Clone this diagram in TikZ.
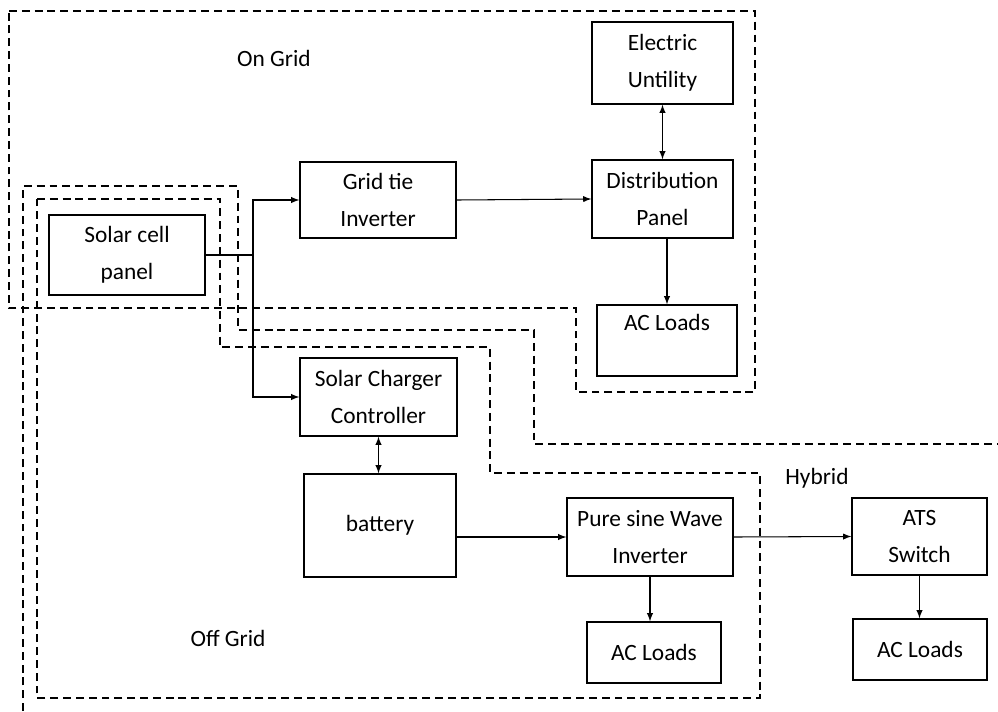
\documentclass[tikz,border=0pt]{standalone}
\usepackage{fontspec}
\setmainfont{Carlito}
\usetikzlibrary{positioning}

\begin{document}
\begin{tikzpicture}[>=latex,x=0.02cm,y=-0.02cm,
    blk/.style={draw,thick,align=center,inner sep=0pt,font=\fontsize{13.3}{21}\selectfont},
    lbl/.style={font=\fontsize{13.3}{16}\selectfont},
    zone/.style={thick,dash pattern=on 4.5pt off 2.8pt}]
        \useasboundingbox (0,0) rectangle (998,711);
        % boxes
        \node[blk,minimum width=2.82cm,minimum height=1.64cm] (util) at (662.5,63) {Electric\\Untility};
        \node[blk,minimum width=2.82cm,minimum height=1.56cm] (dist) at (662.5,199) {Distribution\\Panel};
        \node[blk,minimum width=2.8cm,minimum height=1.42cm] (acgrid) at (667,340.5) {AC Loads\\~};
        \node[blk,minimum width=3.12cm,minimum height=1.52cm] (gridtie) at (378,200) {Grid tie\\Inverter};
        \node[blk,minimum width=3.12cm,minimum height=1.6cm] (solar) at (127,255) {Solar cell\\panel};
        \node[blk,minimum width=3.14cm,minimum height=1.56cm] (charger) at (378.5,397) {Solar Charger\\Controller};
        \node[blk,minimum width=3.04cm,minimum height=2.06cm] (battery) at (380,525.5) {battery};
        \node[blk,minimum width=3.32cm,minimum height=1.56cm] (sine) at (650,537) {Pure sine Wave\\Inverter};
        \node[blk,minimum width=2.68cm,minimum height=1.22cm] (acoff) at (654,652.5) {AC Loads};
        \node[blk,minimum width=2.7cm,minimum height=1.54cm] (ats) at (919.5,536.5) {ATS\\Switch};
        \node[blk,minimum width=2.68cm,minimum height=1.22cm] (achyb) at (920,649.5) {AC Loads};
        % zone labels
        \node[lbl] (ongrid) at (274,58) {On Grid};
        \node[lbl] (hybrid) at (817,478) {Hybrid};
        \node[lbl] (offgrid) at (228,638) {Off Grid};
        % connectors
        \coordinate (split) at (253,255);
        \draw[semithick] (solar.east) -- (split);
        \draw[semithick,->] (split) |- (gridtie.west);
        \draw[semithick,->] (split) |- (charger.west);
        \draw[semithick,->] (gridtie.east) -- (dist.west);
        \draw[semithick,<->] (util.south) -- (dist.north);
        \draw[semithick,->] (dist.south -| acgrid.north) -- (acgrid.north);
        \draw[semithick,<->] (charger.south) -- (charger.south |- battery.north);
        \draw[semithick,->] (battery.east |- sine.west) -- (sine.west);
        \draw[semithick,->] (sine.east) -- (ats.west);
        \draw[semithick,->] (sine.south) -- (sine.south |- acoff.north);
        \draw[semithick,->] (ats.south) -- (ats.south |- achyb.north);
        % dashed zones
        \draw[zone] (9,11) -- (755,11) -- (755,392) -- (576,392) -- (576,308) -- (9,308) -- cycle;
        \draw[zone] (23,711) -- (23,186) -- (238,186) -- (238,330) -- (534,330) -- (534,444) -- (998,444);
        \draw[zone] (37,199) -- (220,199) -- (220,347) -- (490,347) -- (490,473) -- (760,473) -- (760,698) -- (37,698) -- cycle;
    \end{tikzpicture}
\end{document}
